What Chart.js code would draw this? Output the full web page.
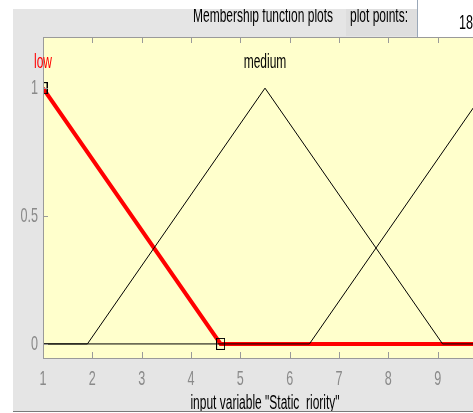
<!DOCTYPE html>
<html>
<head>
<meta charset="utf-8">
<script src="https://cdn.jsdelivr.net/npm/chart.js@4/dist/chart.umd.min.js"></script>
<style>
  html, body { margin: 0; padding: 0; overflow: hidden; background: #fff; }
  #wrap { position: relative; width: 520px; height: 413px; }
</style>
</head>
<body>
<div id="wrap"><canvas id="c"></canvas></div>
<script>
// Axis ticks
const xTicks = [1, 2, 3, 4, 5, 6, 7, 8, 9, 10];
const yTicks = [0, 0.5, 1];

// Membership function names and where their labels sit (peak positions)
const mfNames = ['low', 'medium'];
const mfPeaks = [1, 5.5];

// Membership function vertices over the input range [1, 10]
const lowX = [1, 4.6, 10];
const lowY = [1, 0, 0];
const mediumX = [1, 1.9, 5.5, 9.1, 10];
const mediumY = [0, 0, 1, 0, 0];
const thirdX = [1, 6.4, 10];
const thirdY = [0, 0, 1];

const plotPoints = '181';
const figTitle = 'Membership function plots';
const plotPointsLabel = 'plot points:';
const xTitle = 'input variable "Static_riority"';

const FONT = "'Liberation Sans', Arial, sans-serif";
const TEXT_SQUEEZE = 0.6;   // condensed look of the GUI font

function pts(xs, ys) { return xs.map((x, i) => ({ x: x, y: ys[i] })); }

// open square vertex marker
function boxMarker() {
  const c = document.createElement('canvas');
  c.width = 9; c.height = 12;
  const g = c.getContext('2d');
  g.strokeStyle = '#000';
  g.lineWidth = 1;
  g.strokeRect(0.5, 0.5, 8, 11);
  return c;
}
const marker = boxMarker();

// all text on this canvas is drawn horizontally condensed
const canvas = document.getElementById('c');
const g2d = canvas.getContext('2d');
const rawFillText = g2d.fillText.bind(g2d);
g2d.fillText = function (t, px, py) {
  this.save();
  this.translate(px, py);
  this.scale(TEXT_SQUEEZE, 1);
  rawFillText(t, 0, 0);
  this.restore();
};

const frame = {
  id: 'frame',
  beforeDraw(chart) {
    const { ctx, width, height, chartArea: a } = chart;
    ctx.save();
    ctx.fillStyle = '#fff';
    ctx.fillRect(0, 0, width, height);
    ctx.fillStyle = '#e5e5e5';
    ctx.fillRect(13, 9, width - 13, 402);
    // plot points panel
    ctx.fillStyle = '#dedede';
    ctx.fillRect(346, 9, 71, 27);
    // edit box
    ctx.fillStyle = '#fff';
    ctx.fillRect(417, 0, width - 417, 38);
    ctx.strokeStyle = '#9aa8b8';
    ctx.lineWidth = 1;
    ctx.beginPath();
    ctx.moveTo(417.5, 0); ctx.lineTo(417.5, 38.5); ctx.lineTo(width, 38.5);
    ctx.stroke();
    // axes background
    ctx.fillStyle = '#ffffcc';
    ctx.fillRect(a.left, a.top, a.right - a.left, a.bottom - a.top);
    ctx.restore();
  },
  afterDraw(chart) {
    const { ctx, width, height, chartArea: a, scales: { x, y } } = chart;
    ctx.save();
    // axes box and inward ticks
    ctx.strokeStyle = '#9a9a9a';
    ctx.lineWidth = 1;
    ctx.beginPath();
    ctx.moveTo(a.left + 0.5, a.top); ctx.lineTo(a.left + 0.5, a.bottom);
    ctx.moveTo(a.left, a.top + 0.5); ctx.lineTo(a.right, a.top + 0.5);
    ctx.moveTo(a.left, a.bottom + 0.5); ctx.lineTo(a.right, a.bottom + 0.5);
    xTicks.forEach(v => {
      const px = Math.round(x.getPixelForValue(v)) + 0.5;
      ctx.moveTo(px, a.top); ctx.lineTo(px, a.top + 6);
      ctx.moveTo(px, a.bottom); ctx.lineTo(px, a.bottom - 6);
    });
    yTicks.forEach(v => {
      const py = Math.round(y.getPixelForValue(v)) + 0.5;
      ctx.moveTo(a.left, py); ctx.lineTo(a.left + 5, py);
    });
    ctx.stroke();

    // membership function names
    ctx.font = '20px ' + FONT;
    ctx.textAlign = 'center';
    ctx.textBaseline = 'middle';
    mfNames.forEach((n, i) => {
      ctx.fillStyle = i === 0 ? '#ff0000' : '#000';
      ctx.fillText(n, x.getPixelForValue(mfPeaks[i]), y.getPixelForValue(1.1));
    });

    // figure texts
    ctx.fillStyle = '#000';
    ctx.textAlign = 'left';
    ctx.textBaseline = 'alphabetic';
    ctx.fillText(figTitle, 193, 22);
    ctx.fillText(plotPointsLabel, 350, 22);
    ctx.font = '21px ' + FONT;
    ctx.fillText(plotPoints, 459, 29);

    // window edges
    ctx.fillStyle = '#fff';
    ctx.fillRect(0, 0, 417, 9);
    ctx.fillRect(0, 0, 13, height);
    ctx.fillRect(0, 412, width, height - 412);
    ctx.fillStyle = '#7a7a7a';
    ctx.fillRect(13, 411, width - 13, 1);
    ctx.restore();
  }
};

new Chart(canvas, {
  type: 'line',
  data: {
    datasets: [
      {
        data: pts(mediumX, mediumY),
        borderColor: '#000', borderWidth: 1, pointRadius: 0, tension: 0
      },
      {
        data: pts(thirdX, thirdY),
        borderColor: '#000', borderWidth: 1, pointRadius: 0, tension: 0
      },
      {
        data: pts(lowX, lowY),
        borderColor: '#ff0000', borderWidth: 4, tension: 0,
        pointStyle: [marker, marker, false],
        pointRadius: [5, 5, 0]
      }
    ]
  },
  options: {
    responsive: true,
    maintainAspectRatio: false,
    animation: false,
    events: [],
    layout: { padding: { left: 0, right: 33, top: 37, bottom: 0 } },
    plugins: { legend: { display: false }, tooltip: { enabled: false } },
    scales: {
      x: {
        type: 'linear', min: 1, max: 10,
        afterBuildTicks: s => { s.ticks = xTicks.map(v => ({ value: v })); },
        afterFit: s => { s.height = 55; },
        grid: { display: false, drawTicks: false },
        border: { display: false },
        ticks: {
          color: '#8a8a8a', padding: 9, maxRotation: 0, autoSkip: false,
          font: { family: FONT, size: 21 }
        },
        title: {
          display: true, text: xTitle, color: '#000',
          font: { family: FONT, size: 20, lineHeight: 1 },
          padding: { top: 0, bottom: 0 }
        }
      },
      y: {
        min: -0.055, max: 1.2,
        afterBuildTicks: s => { s.ticks = yTicks.map(v => ({ value: v })); },
        afterFit: s => { s.width = 43; },
        grid: { display: false, drawTicks: false },
        border: { display: false },
        ticks: {
          color: '#8a8a8a', padding: 5,
          font: { family: FONT, size: 21 },
          callback: v => String(v)
        }
      }
    }
  },
  plugins: [frame]
});
</script>
</body>
</html>
